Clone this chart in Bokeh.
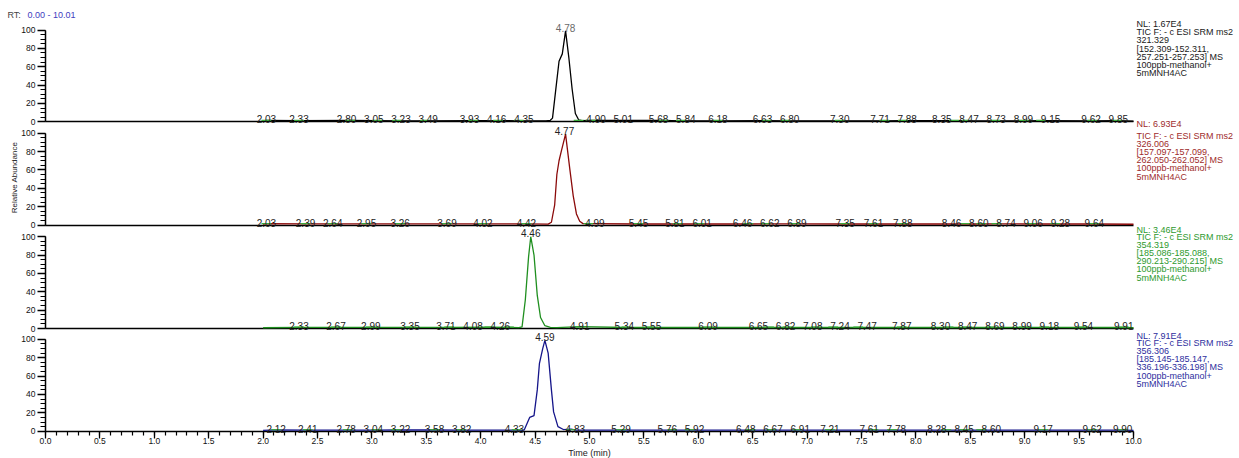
import math
from bokeh.plotting import figure
from bokeh.models import Range1d, LinearAxis, SingleIntervalTicker, PrintfTickFormatter, FixedTicker
from bokeh.core.properties import value
from bokeh.embed import file_html
from bokeh.resources import INLINE

# ---------------- data ----------------
rt_range = "0.00 - 10.01"
x_ticks_interval = 0.5

# chromatogram traces as (time [min], relative abundance [%])
trace_321 = [(2.00, 0.8), (2.03, 1.4), (2.33, 1.3), (2.80, 1.4), (3.05, 1.3), (3.23, 1.1),
             (3.49, 1.1), (3.93, 1.3), (4.16, 1.3), (4.35, 1.1), (4.60, 1.0), (4.64, 1.6),
             (4.66, 4.0), (4.69, 35.0), (4.72, 66.0), (4.75, 74.0), (4.78, 99.0), (4.81, 70.0),
             (4.84, 36.0), (4.87, 9.0), (4.90, 2.2), (4.93, 1.2), (5.01, 1.6), (5.68, 1.4),
             (5.84, 1.1), (6.18, 1.1), (6.63, 1.3), (6.80, 1.1), (7.30, 1.1), (7.71, 1.1),
             (7.88, 1.3), (8.35, 1.3), (8.47, 1.1), (8.73, 1.1), (8.99, 1.1), (9.15, 1.3),
             (9.62, 1.1), (9.85, 1.3), (10.00, 0.8)]
trace_326 = [(2.00, 0.8), (2.03, 1.4), (2.39, 1.2), (2.64, 1.2), (2.95, 1.2), (3.26, 1.2),
             (3.69, 1.2), (4.02, 1.2), (4.42, 1.2), (4.62, 1.0), (4.65, 3.0), (4.68, 22.0),
             (4.70, 55.0), (4.72, 70.0), (4.74, 80.0), (4.78, 99.0), (4.82, 60.0), (4.85, 32.0),
             (4.88, 12.0), (4.91, 4.0), (4.94, 1.5), (4.99, 1.6), (5.45, 1.1), (5.81, 1.1),
             (6.01, 1.3), (6.46, 1.1), (6.62, 1.3), (6.89, 1.3), (7.35, 1.1), (7.61, 1.3),
             (7.88, 1.1), (8.46, 1.3), (8.60, 1.1), (8.74, 1.3), (9.06, 1.1), (9.28, 1.1),
             (9.64, 1.1), (10.00, 0.8)]
trace_354 = [(2.00, 0.8), (2.33, 1.2), (2.67, 1.2), (2.99, 1.2), (3.35, 1.2), (3.71, 1.2),
             (4.08, 1.4), (4.26, 1.3), (4.35, 1.0), (4.38, 1.8), (4.41, 31.0), (4.44, 78.0),
             (4.46, 100.0), (4.49, 80.0), (4.52, 36.0), (4.55, 12.0), (4.59, 3.0), (4.64, 1.3),
             (4.70, 1.0), (4.91, 2.0), (5.34, 1.1), (5.55, 1.3), (6.09, 1.1), (6.65, 1.1),
             (6.82, 1.1), (7.08, 1.1), (7.24, 1.1), (7.47, 1.1), (7.87, 1.1), (8.30, 1.1),
             (8.47, 1.1), (8.69, 1.1), (8.99, 1.3), (9.18, 1.3), (9.54, 1.1), (9.91, 1.1),
             (10.00, 0.8)]
trace_356 = [(2.00, 0.8), (2.12, 1.4), (2.41, 1.1), (2.78, 1.1), (3.04, 1.1), (3.22, 1.3),
             (3.58, 1.3), (3.82, 1.1), (4.33, 1.2), (4.38, 1.0), (4.40, 1.4), (4.45, 15.0),
             (4.49, 17.0), (4.52, 45.0), (4.54, 74.0), (4.57, 90.0), (4.59, 99.0), (4.62, 85.0),
             (4.65, 45.0), (4.67, 21.0), (4.71, 5.0), (4.76, 1.8), (4.83, 2.2), (4.88, 1.2),
             (5.29, 1.2), (5.76, 1.1), (5.92, 1.1), (6.48, 1.1), (6.67, 1.1), (6.91, 1.1),
             (7.21, 1.1), (7.61, 1.1), (7.78, 1.1), (8.28, 1.2), (8.45, 1.1), (8.60, 1.1),
             (9.17, 1.2), (9.62, 1.1), (9.90, 1.2), (10.00, 0.8)]

peak_rt = [4.78, 4.77, 4.46, 4.59]
peak_height = [99.0, 99.0, 100.0, 99.0]

minor_rt_321 = [2.03, 2.33, 2.80, 3.05, 3.23, 3.49, 3.93, 4.16, 4.35, 4.90, 5.01, 5.68, 5.84,
                6.18, 6.63, 6.80, 7.30, 7.71, 7.88, 8.35, 8.47, 8.73, 8.99, 9.15, 9.62, 9.85]
minor_rt_326 = [2.03, 2.39, 2.64, 2.95, 3.26, 3.69, 4.02, 4.42, 4.99, 5.45, 5.81, 6.01, 6.46,
                6.62, 6.89, 7.35, 7.61, 7.88, 8.46, 8.60, 8.74, 9.06, 9.28, 9.64]
minor_rt_354 = [2.33, 2.67, 2.99, 3.35, 3.71, 4.08, 4.26, 4.91, 5.34, 5.55, 6.09, 6.65, 6.82,
                7.08, 7.24, 7.47, 7.87, 8.30, 8.47, 8.69, 8.99, 9.18, 9.54, 9.91]
minor_rt_356 = [2.12, 2.41, 2.78, 3.04, 3.22, 3.58, 3.82, 4.33, 4.83, 5.29, 5.76, 5.92, 6.48,
                6.67, 6.91, 7.21, 7.61, 7.78, 8.28, 8.45, 8.60, 9.17, 9.62, 9.90]

nl_values = ["1.67E4", "6.93E4", "3.46E4", "7.91E4"]
precursor = ["321.329", "326.006", "354.319", "356.306"]
range_a = ["[152.309-152.311,", "[157.097-157.099,", "[185.086-185.088,", "[185.145-185.147,"]
range_b = ["257.251-257.253]  MS", "262.050-262.052]  MS", "290.213-290.215]  MS", "336.196-336.198]  MS"]
scan_filter = "TIC F: - c ESI SRM ms2"
sample_name = ["100ppb-methanol+", "5mMNH4AC"]

traces = [trace_321, trace_326, trace_354, trace_356]
minors = [minor_rt_321, minor_rt_326, minor_rt_354, minor_rt_356]

# ---------------- layout / style ----------------
FONT_NAME = "Liberation Sans"
FONT = value(FONT_NAME)
W, H = 1239, 458
PXM = 108.8          # px per minute
X0 = 45              # px of t = 0
S = 0.918            # px per 1 % abundance
Y0 = [121.3, 224.5, 328.0, 430.7]
Y100 = [y - 100 * S for y in Y0]
names = ["default", "p2", "p3", "p4"]
trace_colors = ["#000000", "#8B0A0A", "#1F8F1F", "#15158A"]
text_colors = ["#1a1a1a", "#9E2B2B", "#2E9A2E", "#2E2E9E"]
label_color = "#222222"
mark_color = "#3BAA3B"
nl_off = [-6.5, -9.4, -7.2, -3.9]
blk_off = [2.2, 2.3, -0.2, 3.4]
line_step = 8.2


def vy(k, py):
    return (Y0[k] - py) / S


def xd(px):
    return (px - X0) / PXM


def place_labels(times, peak, d=0.25, dp=0.28):
    pos = list(times)
    for _ in range(300):
        for i in range(len(pos) - 1):
            gap = pos[i + 1] - pos[i]
            if gap < d:
                sh = (d - gap) / 2
                pos[i] -= sh
                pos[i + 1] += sh
        for i in range(len(pos)):
            if abs(pos[i] - peak) < dp:
                pos[i] = peak - dp if times[i] < peak else peak + dp
    return pos


p = figure(width=W, height=H, output_backend="svg", toolbar_location=None,
           x_range=Range1d(xd(0), xd(W)), y_range=Range1d(vy(0, H), vy(0, 0)),
           x_axis_location=None, y_axis_location=None, outline_line_color=None,
           min_border_left=0, min_border_right=0, min_border_top=0, min_border_bottom=0,
           background_fill_color="white", border_fill_color="white")
p.extra_y_ranges = {names[k]: Range1d(vy(k, H), vy(k, 0)) for k in range(1, 4)}
for g in p.grid:
    g.visible = False

for k in range(4):
    nm = names[k]
    # x axis (baseline) of the panel
    xax = LinearAxis(y_range_name=nm, fixed_location=0, bounds=(0, 10))
    xax.axis_line_color = "#000000"
    xax.axis_line_width = 1.5
    xax.level = "underlay"
    if k < 3:
        xax.ticker = FixedTicker(ticks=[])
        xax.major_tick_line_color = None
        xax.minor_tick_line_color = None
        xax.major_label_text_font_size = "0px"
    else:
        xax.ticker = SingleIntervalTicker(interval=x_ticks_interval, num_minor_ticks=5)
        xax.formatter = PrintfTickFormatter(format="%.1f")
        xax.major_tick_in = 0
        xax.minor_tick_in = 0
        xax.major_tick_out = 7
        xax.minor_tick_out = 4
        xax.major_tick_line_width = 1.3
        xax.minor_tick_line_width = 1.2
        xax.major_label_standoff = 0
        xax.major_label_text_font = FONT_NAME
        xax.major_label_text_font_size = "8.5px"
        xax.major_label_text_color = "#111111"
        xax.axis_label = "Time (min)"
        xax.axis_label_standoff = 0
        xax.axis_label_text_font = FONT_NAME
        xax.axis_label_text_font_size = "9px"
        xax.axis_label_text_font_style = "normal"
        xax.axis_label_text_color = "#222222"
    p.add_layout(xax, "below")

    # y axis of the panel
    yax = LinearAxis(y_range_name=nm, fixed_location=0, bounds=(0, 100),
                     ticker=SingleIntervalTicker(interval=20, num_minor_ticks=4))
    yax.axis_line_color = "#000000"
    yax.axis_line_width = 1.5
    yax.major_tick_in = 0
    yax.minor_tick_in = 0
    yax.major_tick_out = 8
    yax.minor_tick_out = 5
    yax.major_tick_line_width = 1.3
    yax.minor_tick_line_width = 1.2
    yax.major_label_standoff = 2
    yax.major_label_text_font = FONT_NAME
    yax.major_label_text_font_size = "8.5px"
    yax.major_label_text_color = "#111111"
    p.add_layout(yax, "left")

    # chromatogram trace
    t = [a for a, b in traces[k]]
    v = [b for a, b in traces[k]]
    p.line(t, v, y_range_name=nm, line_color=trace_colors[k], line_width=1.3)

    # small detected-peak marks
    mk = minors[k]
    p.segment(x0=[m - 0.045 for m in mk], y0=[1.6] * len(mk),
              x1=[m + 0.045 for m in mk], y1=[1.6] * len(mk),
              y_range_name=nm, line_color=mark_color, line_width=1.2)

    # minor peak labels
    pos = place_labels(mk, peak_rt[k])
    p.text(x=pos, y=[2.6] * len(mk), text=["%.2f" % m for m in mk], y_range_name=nm,
           text_font=FONT, text_font_size="10px", text_color=label_color,
           text_align="center", text_baseline="alphabetic")

    # main peak label
    p.text(x=[peak_rt[k]], y=[peak_height[k] + 3.5], text=["%.2f" % peak_rt[k]],
           y_range_name=nm, text_font=FONT, text_font_size="10px",
           text_color="#6a6a6a" if k == 0 else label_color,
           text_align="center", text_baseline="alphabetic")

    # info block on the right
    lines = [scan_filter, precursor[k], range_a[k], range_b[k]] + sample_name
    xs = [xd(1136)] * (len(lines) + 1)
    ys = [vy(k, Y100[k] + nl_off[k])] + [vy(k, Y100[k] + blk_off[k] + i * line_step)
                                         for i in range(len(lines))]
    p.text(x=xs, y=ys, text=["NL: " + nl_values[k]] + lines, y_range_name=nm,
           text_font=FONT, text_font_size="9px", text_color=text_colors[k],
           text_align="left", text_baseline="middle")

# header "RT: ..."
p.text(x=[xd(7)], y=[vy(0, 14.5)], text=["RT:"], text_font=FONT, text_font_size="9px",
       text_color="#444444", text_align="left", text_baseline="middle")
p.text(x=[xd(27)], y=[vy(0, 14.5)], text=[rt_range], text_font=FONT, text_font_size="9px",
       text_color="#4040C0", text_align="left", text_baseline="middle")

# y axis title
p.text(x=[xd(14)], y=[vy(1, 177)], text=["Relative Abundance"], y_range_name="p2",
       angle=math.pi / 2, text_font=FONT, text_font_size="8px", text_color="#222222",
       text_align="center", text_baseline="middle")

open("out.html", "w").write(file_html(p, INLINE))
